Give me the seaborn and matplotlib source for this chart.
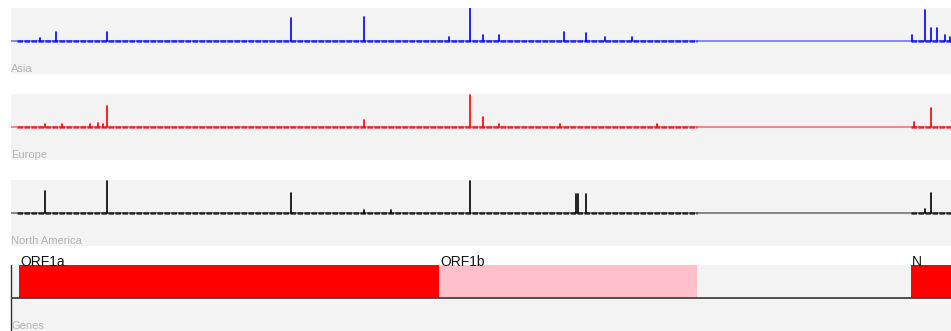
import numpy as np
import pandas as pd
import matplotlib
matplotlib.use("Agg")
import matplotlib.pyplot as plt
import seaborn as sns

# ---------------- data ----------------
GENOME_END = 29545
data_regions = [(200, 21560), (28280, 29545)]

track_names = ["Asia", "Europe", "North America"]
track_colors = ["#0000ff", "#ff0000", "#000000"]

asia_pos = [914, 1408, 3025, 8790, 11090, 13770, 14430, 14840, 15340, 17390,
            18085, 18680, 19530, 28325, 28735, 28920, 29110, 29365, 29520]
asia_val = [0.09, 0.27, 0.27, 0.70, 0.73, 0.12, 1.00, 0.18, 0.18, 0.27,
            0.24, 0.12, 0.12, 0.18, 0.94, 0.39, 0.39, 0.18, 0.12]

europe_pos = [1071, 1607, 2489, 2741, 2899, 3025, 11090, 14430, 14840, 15340,
              17265, 20290, 28390, 28920]
europe_val = [0.09, 0.09, 0.09, 0.12, 0.09, 0.64, 0.21, 0.97, 0.30, 0.09,
              0.09, 0.09, 0.15, 0.58]

namerica_pos = [1071, 3025, 8790, 11090, 11940, 14430, 17770, 17830, 18085,
                28735, 28920]
namerica_val = [0.67, 0.97, 0.61, 0.09, 0.09, 0.97, 0.58, 0.58, 0.58,
                0.12, 0.61]

gene_names = ["ORF1a", "ORF1b", "N"]
gene_starts = [266, 13468, 28274]
gene_ends = [13483, 21555, 29533]
gene_colors = ["#ff0000", "#ffc0cb", "#ff0000"]

# ---------------- style ----------------
sns.set_style("white")
plt.rcParams["font.family"] = ["Liberation Sans", "DejaVu Sans"]

W, H = 951, 331
fig = plt.figure(figsize=(W / 100, H / 100), dpi=100)
BAND = "#f3f3f3"
LABEL_GREY = "#b4b4b4"


def add_panel(top, bottom):
    ax = fig.add_axes([11 / W, 1 - bottom / H, 940 / W, (bottom - top) / H])
    ax.set_facecolor(BAND)
    for s in ax.spines.values():
        s.set_visible(False)
    ax.set_xticks([])
    ax.set_yticks([])
    ax.set_xlim(0, GENOME_END)
    ax.set_ylim(-1.0, 1.0)
    ax.set_xlabel("")
    ax.set_ylabel("")
    return ax


panel_tops = [8, 94, 180]
all_pos = [asia_pos, europe_pos, namerica_pos]
all_val = [asia_val, europe_val, namerica_val]

for name, color, top, pos, val in zip(track_names, track_colors, panel_tops,
                                      all_pos, all_val):
    ax = add_panel(top, top + 66)
    # faint baseline across the genome
    sns.lineplot(x=[0, GENOME_END], y=[0, 0], ax=ax, color=color, alpha=0.45,
                 lw=1.4)
    # dense small marks in the covered regions
    for a, b in data_regions:
        sns.lineplot(x=[a, b], y=[0, 0], ax=ax, color=color, alpha=0.75,
                     lw=1.8, linestyle=(0, (2.2, 0.6)))
    # spikes
    rows = []
    for i, (p, v) in enumerate(zip(pos, val)):
        rows.append({"pos": p, "val": 0.0, "unit": i})
        rows.append({"pos": p, "val": v, "unit": i})
    df = pd.DataFrame(rows)
    sns.lineplot(data=df, x="pos", y="val", units="unit", estimator=None,
                 sort=False, ax=ax, color=color, lw=1.2)
    ax.set_xlim(0, GENOME_END)
    ax.set_ylim(-1.0, 1.0)
    ax.set_xlabel("")
    ax.set_ylabel("")
    ax.text(0.0, 0.075, name, transform=ax.transAxes, fontsize=8,
            color=LABEL_GREY, ha="left", va="center")

# genes panel
gax = add_panel(265, 331)
gax.bar(gene_starts, [1.0] * len(gene_starts),
        width=[e - s for s, e in zip(gene_starts, gene_ends)],
        align="edge", bottom=0, color=gene_colors, linewidth=0, zorder=2)
gax.axhline(0, color="#444444", lw=1.3, zorder=3)
gax.spines["left"].set_visible(True)
gax.spines["left"].set_color("#333333")
gax.spines["left"].set_linewidth(1.0)
for name, s in zip(gene_names, gene_starts):
    gax.text(s + 40, 0.97, name, fontsize=10, color="#111111",
             ha="left", va="baseline", clip_on=False, zorder=4)
gax.text(0.0, 0.075, "Genes", transform=gax.transAxes, fontsize=8,
         color=LABEL_GREY, ha="left", va="center")

fig.savefig("out.png", dpi=100)
